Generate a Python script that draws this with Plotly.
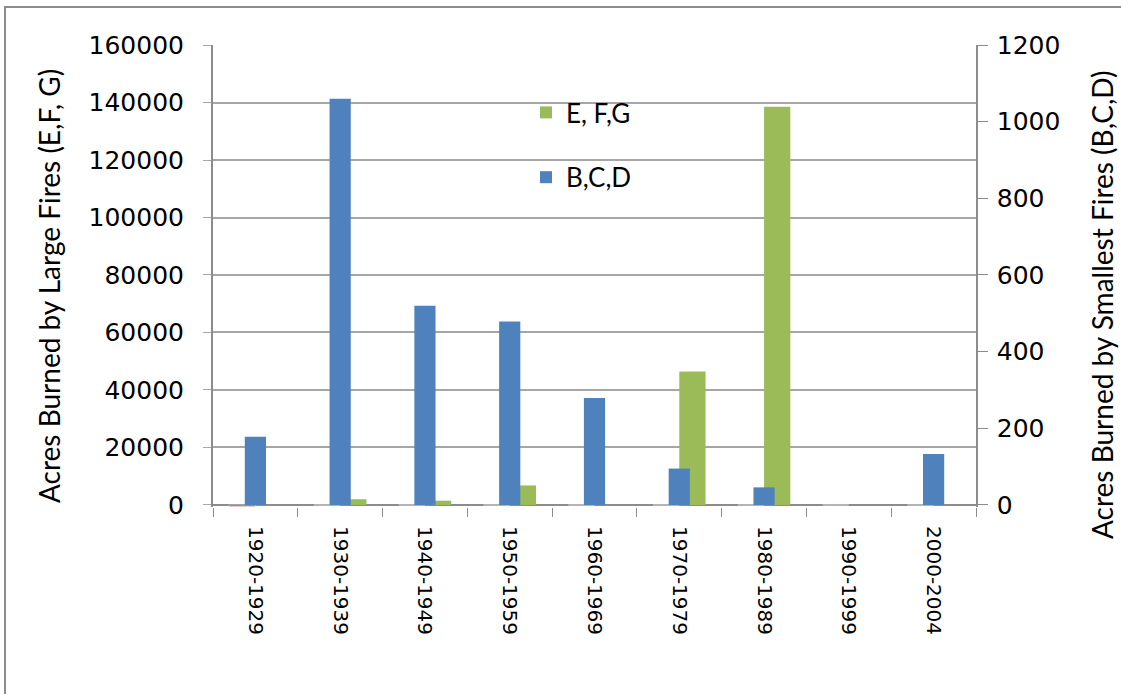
import plotly.graph_objects as go

categories = ["1920-1929", "1930-1939", "1940-1949", "1950-1959", "1960-1969",
              "1970-1979", "1980-1989", "1990-1999", "2000-2004"]
large_efg = [0, 2000, 1500, 6800, 0, 46400, 138500, 0, 0]
other_series = [-500, 0, 0, 0, 0, 0, 0, 0, 0]
small_bcd = [178, 1060, 520, 479, 279, 95, 46, 0, 133]

left_ticks = [0, 20000, 40000, 60000, 80000, 100000, 120000, 140000, 160000]
right_ticks = [0, 200, 400, 600, 800, 1000, 1200]

AX = "#8C8C8C"
GRID = "#A6A6A6"
TICKFONT = dict(family="DejaVu Sans", size=25, color="#000000")
TITLEFONT = dict(family="Lato", size=28, color="#000000")

fig = go.Figure()
fig.add_trace(go.Bar(x=categories, y=other_series, name="A", marker_color="#C0504D",
                     offset=-0.31, width=0.31, showlegend=False, yaxis="y"))
fig.add_trace(go.Bar(x=categories, y=large_efg, name="E, F,G", marker_color="#9BBB59",
                     marker_line_width=0,
                     offset=0.0, width=0.31, legendgroup="g1", yaxis="y"))
fig.add_trace(go.Bar(x=categories, y=small_bcd, name="B,C,D", marker_color="#4F81BD",
                     marker_line_width=0,
                     offset=-0.125, width=0.25, legendgroup="g2", yaxis="y2"))

lo = -700
fig.update_layout(
    width=1121, height=694,
    margin=dict(l=213, r=145, t=45, b=187),
    paper_bgcolor="white", plot_bgcolor="white",
    barmode="overlay",
    showlegend=True,
    legend=dict(x=(526 - 213) / 763, y=(507 - 89) / 462, xanchor="left", yanchor="top",
                font=dict(family="Lato", size=26, color="#000000"),
                bgcolor="rgba(0,0,0,0)", tracegroupgap=28, traceorder="grouped"),
    xaxis=dict(type="category", categoryorder="array", categoryarray=categories,
               tickangle=90, tickfont=dict(family="DejaVu Sans", size=20, color="#000000"),
               tickson="boundaries", ticks="outside", ticklen=9, tickcolor=AX,
               ticklabelstandoff=18,
               showline=False, showgrid=False, range=[-0.5, 8.5]),
    yaxis=dict(range=[lo, 160000], tickvals=left_ticks, ticktext=[str(v) for v in left_ticks],
               tickfont=TICKFONT, showgrid=True, gridcolor=GRID, gridwidth=1.5,
               ticks="outside", ticklen=8, tickcolor=GRID, ticklabelstandoff=14,
               showline=True, linecolor=AX, linewidth=2,
               zeroline=True, zerolinecolor=AX, zerolinewidth=2),
    yaxis2=dict(range=[lo * 1200 / 160000, 1200], tickvals=right_ticks,
                ticktext=[str(v) for v in right_ticks], tickfont=TICKFONT,
                overlaying="y", side="right", showgrid=False, zeroline=False,
                ticks="outside", ticklen=10, tickcolor=AX, ticklabelstandoff=4,
                showline=True, linecolor=AX, linewidth=1.5),
    annotations=[
        dict(text="Acres Burned by Large Fires (E,F, G)", xref="paper", yref="paper",
             x=(49 - 213) / 763, y=(507 - 286) / 462, textangle=-90, showarrow=False,
             xanchor="center", yanchor="middle", font=TITLEFONT),
        dict(text="Acres Burned by Smallest Fires (B,C,D)", xref="paper", yref="paper",
             x=(1102 - 213) / 763, y=(507 - 305) / 462, textangle=-90, showarrow=False,
             xanchor="center", yanchor="middle", font=TITLEFONT),
    ],
    shapes=[dict(type="rect", xref="paper", yref="paper",
                 x0=(5 - 213) / 763, y0=(507 - 720) / 462,
                 x1=(1140 - 213) / 763, y1=(507 - 7) / 462,
                 line=dict(color="#8C8C8C", width=2), layer="below")],
)

fig.write_html("out.html")
